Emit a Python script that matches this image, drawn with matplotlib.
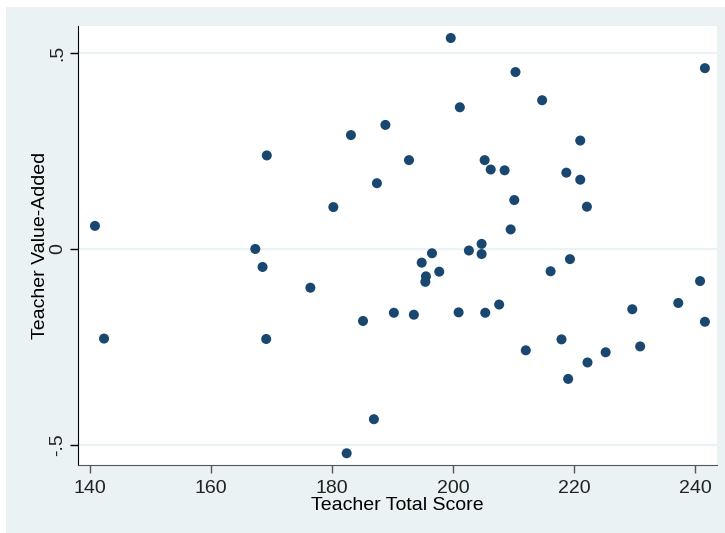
import matplotlib
matplotlib.use("Agg")
import matplotlib.pyplot as plt
from matplotlib.patches import Rectangle

# teacher total score vs value-added
total_score = [140.8, 142.3, 167.3, 168.5, 169.2, 169.1, 176.4, 180.2, 183.1, 187.4,
               188.8, 182.4, 186.9, 185.1, 190.2, 193.5, 192.7, 194.8, 195.5, 195.4,
               196.5, 197.7, 199.6, 201.1, 200.9, 202.6, 204.7, 204.7, 205.2, 205.3,
               206.2, 207.6, 208.5, 209.5, 210.1, 210.3, 212.0, 214.7, 216.1, 217.9,
               218.7, 219.0, 219.3, 221.0, 221.0, 222.1, 222.2, 225.2, 229.6, 230.9,
               237.2, 240.8, 241.6, 241.6]
value_added = [0.059, -0.229, 0.000, -0.046, 0.239, -0.230, -0.099, 0.107, 0.291, 0.168,
               0.317, -0.522, -0.435, -0.184, -0.163, -0.168, 0.227, -0.035, -0.070, -0.084,
               -0.011, -0.058, 0.539, 0.362, -0.162, -0.004, 0.013, -0.013, 0.227, -0.163,
               0.203, -0.142, 0.201, 0.050, 0.125, 0.452, -0.259, 0.380, -0.057, -0.231,
               0.195, -0.332, -0.026, 0.277, 0.177, 0.108, -0.290, -0.264, -0.154, -0.249,
               -0.138, -0.082, 0.462, -0.186]

x_ticks = [140, 160, 180, 200, 220, 240]
y_ticks = [-0.5, 0, 0.5]
y_tick_labels = ['-.5', '0', '.5']

plt.rcParams['font.family'] = ['Liberation Sans', 'DejaVu Sans']

BG = '#EAF2F3'
NAVY = '#1A476F'

fig = plt.figure(figsize=(7.25, 5.33), dpi=100)
fig.patch.set_facecolor('white')
# stata-style light outer region
fig.patches.append(Rectangle((6 / 725, 0), 1, 1 - 7 / 533, transform=fig.transFigure,
                             facecolor=BG, edgecolor='none', zorder=-10))

ax = fig.add_axes([78 / 725, 1 - 465 / 533, 639 / 725, 439 / 533])
ax.set_facecolor('white')
ax.scatter(total_score, value_added, s=52, color=NAVY, edgecolors='none', zorder=3)

ax.set_xlim(138.0, 243.6)
ax.set_ylim(-0.552, 0.5697)
ax.set_xticks(x_ticks)
ax.set_yticks(y_ticks)
ax.set_yticklabels(y_tick_labels, rotation=90, va='center')
for y in y_ticks:
    ax.axhline(y, color=BG, lw=1.6, zorder=1)

for side in ['top', 'right']:
    ax.spines[side].set_visible(False)
ax.spines['left'].set_color('black')
ax.spines['bottom'].set_color('#555555')
ax.tick_params(axis='both', direction='out', length=5.5, width=1, labelsize=14,
               colors='#222222')
ax.tick_params(axis='x', color='#555555', pad=5.5)
ax.tick_params(axis='y', color='black', pad=3)

ax.set_xlabel('Teacher Total Score', fontsize=14, labelpad=0)
ax.set_ylabel('Teacher Value-Added', fontsize=14, labelpad=0)

fig.savefig('out.png', dpi=100, facecolor=fig.get_facecolor())
